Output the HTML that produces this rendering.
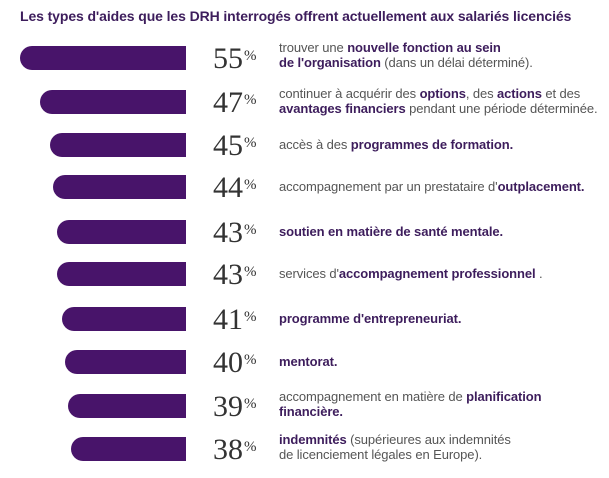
<!DOCTYPE html>
<html><head><meta charset="utf-8"><style>
body{margin:0;width:609px;height:478px;background:#fff;position:relative;overflow:hidden;font-family:"Liberation Sans",sans-serif}
.t{position:absolute;left:20px;top:8px;font-size:14px;font-weight:bold;color:#3d1d5c;white-space:nowrap;letter-spacing:-0.1px}
.bar{position:absolute;height:24px;background:#48146a;border-radius:12px 0 0 12px}
.n{position:absolute;left:213px;font-family:"Liberation Serif",serif;font-size:30px;color:#333;line-height:30px}
.n sup{font-size:15px;vertical-align:top;position:relative;top:-3px;margin-left:1px}
.d{position:absolute;left:279px;font-size:13px;color:#555;line-height:15px;white-space:nowrap;letter-spacing:-0.1px}
.d b{color:#3d1d5c}
</style></head><body>
<div class="t">Les types d'aides que les DRH interrogés offrent actuellement aux salariés licenciés</div>

<div class="bar" style="left:20px;width:166px;top:46px"></div>
<div class="n" style="top:44px">55<sup>%</sup></div>
<div class="d" style="top:40px">trouver une <b>nouvelle fonction au sein<br>de l'organisation</b> (dans un délai déterminé).</div>

<div class="bar" style="left:40px;width:146px;top:90px"></div>
<div class="n" style="top:88px">47<sup>%</sup></div>
<div class="d" style="top:86px">continuer à acquérir des <b>options</b>, des <b>actions</b> et des<br><b>avantages financiers</b> pendant une période déterminée.</div>

<div class="bar" style="left:50px;width:136px;top:133px"></div>
<div class="n" style="top:131px">45<sup>%</sup></div>
<div class="d" style="top:137px">accès à des <b>programmes de formation.</b></div>

<div class="bar" style="left:53px;width:133px;top:175px"></div>
<div class="n" style="top:173px">44<sup>%</sup></div>
<div class="d" style="top:179px">accompagnement par un prestataire d'<b>outplacement.</b></div>

<div class="bar" style="left:57px;width:129px;top:220px"></div>
<div class="n" style="top:218px">43<sup>%</sup></div>
<div class="d" style="top:224px"><b>soutien en matière de santé mentale.</b></div>

<div class="bar" style="left:57px;width:129px;top:262px"></div>
<div class="n" style="top:260px">43<sup>%</sup></div>
<div class="d" style="top:266px">services d'<b>accompagnement professionnel</b> .</div>

<div class="bar" style="left:62px;width:124px;top:307px"></div>
<div class="n" style="top:305px">41<sup>%</sup></div>
<div class="d" style="top:311px"><b>programme d'entrepreneuriat.</b></div>

<div class="bar" style="left:65px;width:121px;top:350px"></div>
<div class="n" style="top:348px">40<sup>%</sup></div>
<div class="d" style="top:354px"><b>mentorat.</b></div>

<div class="bar" style="left:68px;width:118px;top:394px"></div>
<div class="n" style="top:392px">39<sup>%</sup></div>
<div class="d" style="top:389px">accompagnement en matière de <b>planification<br>financière.</b></div>

<div class="bar" style="left:71px;width:115px;top:437px"></div>
<div class="n" style="top:435px">38<sup>%</sup></div>
<div class="d" style="top:432px"><b>indemnités</b> (supérieures aux indemnités<br>de licenciement légales en Europe).</div>
</body></html>
